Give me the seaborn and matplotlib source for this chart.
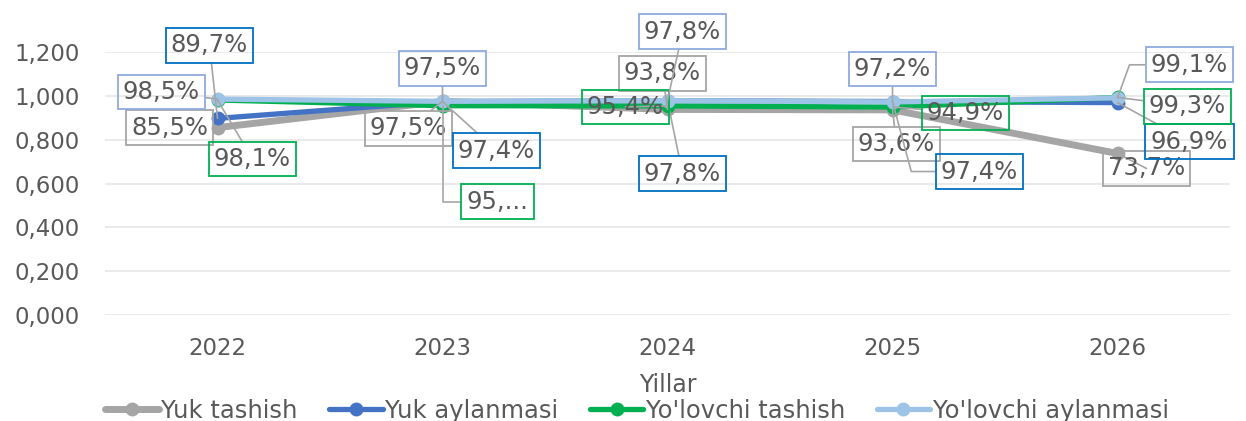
import matplotlib
matplotlib.use("Agg")
import matplotlib.pyplot as plt
import seaborn as sns
import pandas as pd
from matplotlib.ticker import FuncFormatter

# Datos
years = ["2022", "2023", "2024", "2025", "2026"]
series_names = ["Yuk tashish", "Yuk aylanmasi", "Yo'lovchi tashish", "Yo'lovchi aylanmasi"]
yuk_tashish = [0.855, 0.975, 0.938, 0.936, 0.737]
yuk_aylanmasi = [0.897, 0.974, 0.978, 0.974, 0.969]
yolovchi_tashish = [0.981, 0.955, 0.954, 0.949, 0.993]
yolovchi_aylanmasi = [0.985, 0.975, 0.978, 0.972, 0.991]
labels_yt = ["85,5%", "97,5%", "93,8%", "93,6%", "73,7%"]
labels_ya = ["89,7%", "97,4%", "97,8%", "97,4%", "96,9%"]
labels_pt = ["98,1%", "95,...", "95,4%", "94,9%", "99,3%"]
labels_pa = ["98,5%", "97,5%", "97,8%", "97,2%", "99,1%"]

values = [yuk_tashish, yuk_aylanmasi, yolovchi_tashish, yolovchi_aylanmasi]
labels = [labels_yt, labels_ya, labels_pt, labels_pa]
line_colors = ["#A5A5A5", "#4472C4", "#00B050", "#9DC3E6"]
box_colors = ["#A5A5A5", "#0070C0", "#00B050", "#8FAADC"]
line_widths = [5, 3.8, 3.8, 3.8]

# desplazamiento de etiquetas en pixeles (dx, dy hacia abajo)
offsets = [
    [(-48, 0), (-34, 27), (-5, -36), (4, 34), (29, 15)],
    [(-8, -73), (54, 49), (15, 73), (87, 70), (72, 39)],
    [(35, 59), (55, 96), (-42, 1), (73, 6), (70, 9)],
    [(-56, -7), (0, -33), (15, -69), (0, -33), (72, -33)],
]
# lineas guia en angulo (como en Excel)
elbow = {(2, 1): "angle,angleA=0,angleB=90,rad=0",
         (1, 3): "angle,angleA=0,angleB=105,rad=0",
         (3, 4): "angle,angleA=0,angleB=70,rad=0"}

df = pd.DataFrame({
    "pos": list(range(len(years))) * len(series_names),
    "value": yuk_tashish + yuk_aylanmasi + yolovchi_tashish + yolovchi_aylanmasi,
    "serie": [s for s in series_names for _ in years],
})

sns.set_theme(style="white")
plt.rcParams["font.family"] = ["DejaVu Sans"]
text_color = "#595959"

fig = plt.figure(figsize=(12.46, 4.21), dpi=100)
ax = fig.add_axes([105 / 1246, 1 - 315 / 421, 1125 / 1246, 263 / 421])

for name, col, lw in zip(series_names, line_colors, line_widths):
    sub = df[df["serie"] == name]
    sns.lineplot(data=sub, x="pos", y="value", color=col, linewidth=lw,
                 marker="o", markersize=10, markeredgewidth=0, label=name,
                 ax=ax, legend=False, zorder=3)

# Etiquetas de datos
for k, (vals, labs, offs, bc) in enumerate(zip(values, labels, offsets, box_colors)):
    for i, (v, t, (dx, dy)) in enumerate(zip(vals, labs, offs)):
        cs = elbow.get((k, i), "arc3")
        ax.annotate(t, xy=(i, v), xytext=(dx, -dy), textcoords="offset pixels",
                    ha="center", va="center", fontsize=17.5, color=text_color,
                    bbox=dict(boxstyle="square,pad=0.22", fc="none", ec=bc, lw=1.3),
                    arrowprops=dict(arrowstyle="-", color="#A5A5A5", lw=1.2,
                                    shrinkA=0, shrinkB=0, connectionstyle=cs),
                    annotation_clip=False, zorder=5)

ax.set_xlim(-0.5, len(years) - 0.5)
ax.set_ylim(0, 1.2)
ax.set_yticks([0, 0.2, 0.4, 0.6, 0.8, 1.0, 1.2])
ax.yaxis.set_major_formatter(FuncFormatter(lambda v, p: f"{v:.3f}".replace(".", ",")))
ax.set_xticks(range(len(years)))
ax.set_xticklabels(years)
ax.tick_params(axis="both", length=0, labelsize=16.5, labelcolor=text_color)
ax.tick_params(axis="x", pad=16)
ax.tick_params(axis="y", pad=18)
ax.grid(axis="y", color="#E6E6E6", lw=1.2)
ax.set_axisbelow(True)
for s in ax.spines.values():
    s.set_visible(False)
ax.set_xlabel("")
ax.set_ylabel("")

fig.text(668 / 1246, 1 - 385 / 421, "Yillar", ha="center", va="center",
         fontsize=17, color=text_color)

handles, leg_labels = ax.get_legend_handles_labels()
fig.legend(handles, leg_labels, loc="center", bbox_to_anchor=(637 / 1246, 1 - 411 / 421),
           ncol=4, frameon=False, fontsize=17.5, handlelength=2.2, handletextpad=0.1,
           columnspacing=1.3, labelcolor=text_color)

fig.savefig("out.png", dpi=100)
